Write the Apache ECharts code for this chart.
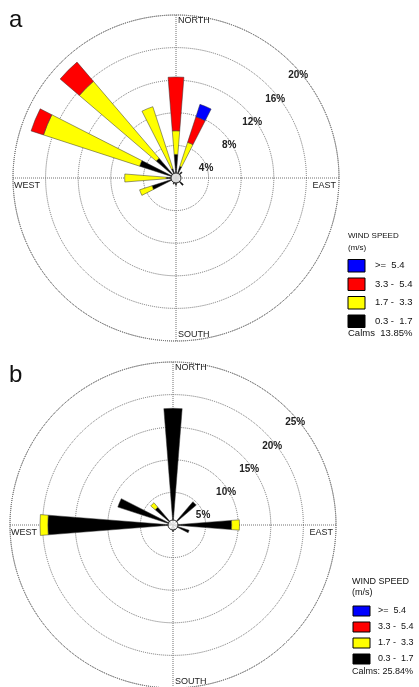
<!DOCTYPE html>
<html><head><meta charset="utf-8">
<script src="https://cdn.jsdelivr.net/npm/echarts@6/dist/echarts.min.js"></script>
<style>html,body{margin:0;padding:0;background:#fff}#c{width:419px;height:687px}</style>
</head><body><div id="c"></div>
<script>
// ---- data ----
const directions = ['N','NNE','NE','ENE','E','ESE','SE','SSE','S','SSW','SW','WSW','W','WNW','NW','NNW'];
const speedClasses = ['>=  5.4', '3.3 -  5.4', '1.7 -  3.3', '0.3 -  1.7'];
const classColors = ['#0000ff', '#ff0000', '#ffff00', '#000000'];
const compassLabels = ['NORTH', 'EAST', 'SOUTH', 'WEST'];

// panel a (percent frequency per speed class)
const aBlack  = [2.9, 1.5, 1.0, 0.6, 0.5, 0.4, 1.2, 0.6, 0.9, 0.8, 0.6, 3.1, 1.2, 4.7, 3.2, 1.2];
const aYellow = [2.9, 3.1, 0, 0, 0, 0, 0, 0, 0, 0, 0, 1.6, 5.1, 12.4, 12.4, 8.0];
const aRed    = [6.6, 3.3, 0, 0, 0, 0, 0, 0, 0, 0, 0, 0, 0, 1.6, 3.1, 0];
const aBlue   = [0, 1.6, 0, 0, 0, 0, 0, 0, 0, 0, 0, 0, 0, 0, 0, 0];
const aTicks  = [4, 8, 12, 16, 20];
const aCalms  = 'Calms  13.85%';

// panel b
const bBlack  = [17.9, 0, 4.7, 0, 9.0, 2.6, 0, 0.8, 1.0, 0.7, 0, 0, 19.2, 8.9, 3.6, 0];
const bYellow = [0, 0, 0, 0, 1.2, 0, 0, 0, 0, 0, 0, 0, 1.2, 0, 0.9, 0];
const bRed    = [0, 0, 0, 0, 0, 0, 0, 0, 0, 0, 0, 0, 0, 0, 0, 0];
const bBlue   = [0, 0, 0, 0, 0, 0, 0, 0, 0, 0, 0, 0, 0, 0, 0, 0];
const bTicks  = [5, 10, 15, 20, 25];
const bCalms  = 'Calms: 25.84%';

// ---- layout ----
const FONT = '"Liberation Sans", Arial, sans-serif';
const panels = [
  { letter: 'a', letterPos: [9, 20], center: [176, 178], R: 163, ticks: aTicks,
    layers: [aBlack, aYellow, aRed, aBlue], calms: aCalms,
    lg: { x: 348, titleY: 236, unitY: 248, titleSize: 8, boxX: 348, top: 259.5, step: 18.5, boxW: 17, boxH: 12.5, labelX: 375, calmsY: 333, size: 9.5 } },
  { letter: 'b', letterPos: [9, 375], center: [173, 525], R: 163, ticks: bTicks,
    layers: [bBlack, bYellow, bRed, bBlue], calms: bCalms,
    lg: { x: 352, titleY: 582, unitY: 593, titleSize: 9, boxX: 353, top: 606, step: 16, boxW: 17, boxH: 10, labelX: 378, calmsY: 672, size: 9 } }
];

const gridLine = { color: '#707070', type: 'dotted', width: 1 };
const polar = [], angleAxis = [], radiusAxis = [], series = [], graphic = [];

panels.forEach((p, i) => {
  const max = p.ticks[p.ticks.length - 1];
  const interval = p.ticks[0];
  const gi = 2 * i, bi = 2 * i + 1;
  polar.push({ center: p.center, radius: p.R }, { center: p.center, radius: p.R });
  angleAxis.push(
    { polarIndex: gi, type: 'value', min: 0, max: 360, interval: 90, startAngle: 90, clockwise: true,
      axisLine: { show: true, lineStyle: gridLine }, axisTick: { show: false }, axisLabel: { show: false },
      splitLine: { show: true, lineStyle: gridLine } },
    { polarIndex: bi, type: 'category', data: directions, startAngle: 90 + 360 / directions.length / 2, clockwise: true,
      axisLine: { show: false }, axisTick: { show: false }, axisLabel: { show: false }, splitLine: { show: false } }
  );
  radiusAxis.push(
    { polarIndex: gi, type: 'value', min: 0, max: max, interval: interval,
      axisLine: { show: false }, axisTick: { show: false }, axisLabel: { show: false },
      splitLine: { show: true, lineStyle: gridLine } },
    { polarIndex: bi, type: 'value', min: 0, max: max,
      axisLine: { show: false }, axisTick: { show: false }, axisLabel: { show: false }, splitLine: { show: false } }
  );
  // stacked wedges: inner class first
  const order = [3, 2, 1, 0]; // black, yellow, red, blue (index into classColors / speedClasses)
  p.layers.forEach((vals, k) => {
    const cls = order[k];
    series.push({
      type: 'bar', coordinateSystem: 'polar', polarIndex: bi, stack: 'rose' + i,
      name: speedClasses[cls], barWidth: '40%',
      data: vals.map(v => v === 0 ? '-' : v),
      itemStyle: { color: classColors[cls], borderColor: '#333', borderWidth: 0.5 },
      silent: true
    });
  });
  // calm circle at the origin
  series.push({
    type: 'scatter', coordinateSystem: 'polar', polarIndex: bi, data: [[0, directions[0]]],
    symbol: 'circle', symbolSize: 10, z: 5, silent: true,
    itemStyle: { color: '#fff', borderColor: '#000', borderWidth: 1 }
  });

  const [cx, cy] = p.center, R = p.R;
  // panel letter
  graphic.push({ type: 'text', x: p.letterPos[0], y: p.letterPos[1], z: 10,
    style: { text: p.letter, font: '24px ' + FONT, fill: '#111', align: 'left', verticalAlign: 'middle' } });
  // compass labels
  const cf = '9px ' + FONT;
  const cpos = [
    [cx + 2, cy - R + 6, 'left'],
    [cx + R - 3, cy + 8, 'right'],
    [cx + 2, cy + R - 6, 'left'],
    [cx - R + 1, cy + 8, 'left']
  ];
  compassLabels.forEach((t, k) => {
    graphic.push({ type: 'text', x: cpos[k][0], y: cpos[k][1], z: 10,
      style: { text: t, font: cf, fill: '#222', align: cpos[k][2], verticalAlign: 'middle' } });
  });
  // ring percentage labels along the 45 degree direction
  p.ticks.forEach(t => {
    const r = R * t / max;
    graphic.push({ type: 'text', x: cx + r * Math.SQRT1_2 + 7, y: cy - r * Math.SQRT1_2 + 13, z: 10,
      style: { text: t + '%', font: 'bold 10px ' + FONT, fill: '#222', align: 'center', verticalAlign: 'middle' } });
  });
  // legend
  const L = p.lg;
  graphic.push({ type: 'text', x: L.x, y: L.titleY, z: 10,
    style: { text: 'WIND SPEED', font: L.titleSize + 'px ' + FONT, fill: '#111', align: 'left', verticalAlign: 'middle' } });
  graphic.push({ type: 'text', x: L.x, y: L.unitY, z: 10,
    style: { text: '(m/s)', font: L.titleSize + 'px ' + FONT, fill: '#111', align: 'left', verticalAlign: 'middle' } });
  speedClasses.forEach((s, k) => {
    const y = L.top + k * L.step;
    graphic.push({ type: 'rect', z: 10, shape: { x: L.boxX, y: y, width: L.boxW, height: L.boxH },
      style: { fill: classColors[k], stroke: '#000', lineWidth: 1 } });
    graphic.push({ type: 'text', x: L.labelX, y: y + L.boxH / 2, z: 10,
      style: { text: s, font: L.size + 'px ' + FONT, fill: '#111', align: 'left', verticalAlign: 'middle' } });
  });
  graphic.push({ type: 'text', x: L.x, y: L.calmsY, z: 10,
    style: { text: p.calms, font: L.size + 'px ' + FONT, fill: '#111', align: 'left', verticalAlign: 'middle' } });
});

const chart = echarts.init(document.getElementById('c'), null, { renderer: 'canvas' });
chart.setOption({
  animation: false,
  backgroundColor: '#fff',
  polar, angleAxis, radiusAxis, series, graphic
});
</script>
</body></html>
